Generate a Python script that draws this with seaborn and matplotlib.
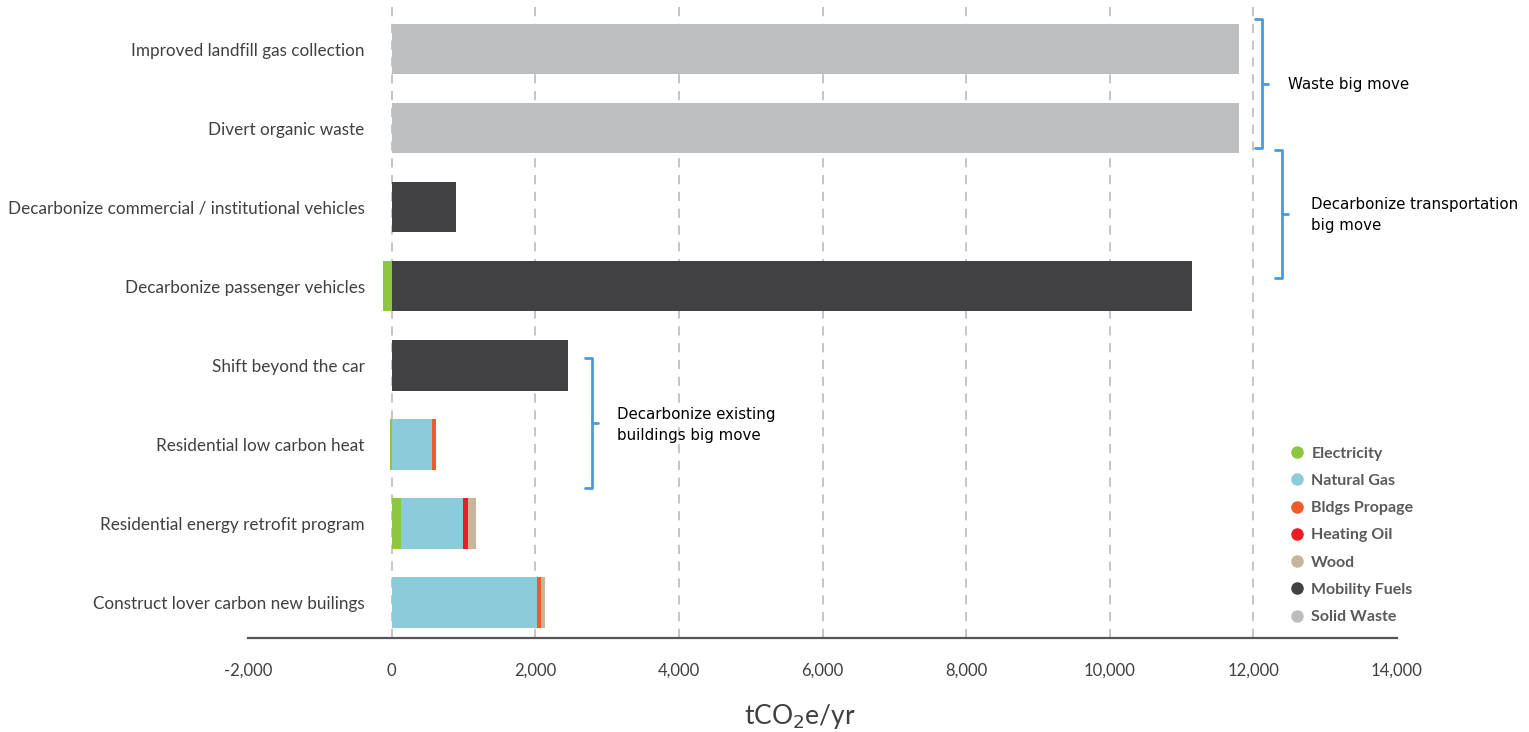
import numpy as np
import pandas as pd
import matplotlib.pyplot as plt
import seaborn as sns

sns.set_style("white")

# Data (tCO2e/yr)
actions = ['Improved landfill gas collection', 'Divert organic waste',
           'Decarbonize commercial / institutional vehicles', 'Decarbonize passenger vehicles',
           'Shift beyond the car', 'Residential low carbon heat',
           'Residential energy retrofit program', 'Construct lover carbon new builings']
fuels = ['Electricity', 'Natural Gas', 'Bldgs Propage', 'Heating Oil', 'Wood',
         'Mobility Fuels', 'Solid Waste']
electricity = [0, 0, 0, -120, 0, -25, 130, 0]
natural_gas = [0, 0, 0, 0, 0, 560, 870, 2020]
propane = [0, 0, 0, 0, 0, 55, 0, 60]
heating_oil = [0, 0, 0, 0, 0, 0, 70, 0]
wood = [0, 0, 0, 0, 0, 0, 100, 50]
mobility = [0, 0, 900, 11150, 2450, 0, 0, 0]
solid_waste = [11800, 11800, 0, 0, 0, 0, 0, 0]
colors = ['#8dc63f', '#8ccbd9', '#f15a29', '#ed1c24', '#c7b69c', '#414042', '#bcbec0']
x_ticks = [-2000, 0, 2000, 4000, 6000, 8000, 10000, 12000, 14000]

df = pd.DataFrame({'action': actions, 'Electricity': electricity, 'Natural Gas': natural_gas,
                   'Bldgs Propage': propane, 'Heating Oil': heating_oil, 'Wood': wood,
                   'Mobility Fuels': mobility, 'Solid Waste': solid_waste})

W, H = 1529, 732
fig = plt.figure(figsize=(W / 100, H / 100), dpi=100)
ax = fig.add_axes([248 / W, 1 - 638 / H, (1397 - 248) / W, 638 / H])


def px(x, y):
    """pixel coords (top-left origin) -> figure fraction"""
    return x / W, 1 - y / H


# positive parts stacked: draw cumulative ends from outermost layer inward
pos = df[fuels].clip(lower=0)
cum = pos.cumsum(axis=1)
bar_w = 0.64
for fuel, col in reversed(list(zip(fuels, colors))):
    sns.barplot(x=cum[fuel], y=df['action'], orient='h', color=col, width=bar_w,
                saturation=1, linewidth=0, ax=ax, zorder=2)
# negative electricity
neg = df['Electricity'].clip(upper=0)
sns.barplot(x=neg, y=df['action'], orient='h', color=colors[0], width=bar_w,
            saturation=1, linewidth=0, ax=ax, zorder=2)

# dashed gridlines
for t in x_ticks[1:-1]:
    ax.axvline(t, color='#b5b5b5', lw=1.1, ls=(0, (6, 5)), zorder=0)

ax.set_xlim(-2000, 14000)
ax.set_ylim(7.45, -0.62)
ax.set_xticks(x_ticks)
ax.set_xticklabels([f'{t:,}' for t in x_ticks])
ax.tick_params(axis='x', length=0, pad=18, labelsize=12, labelcolor='#404040')
# labels sit inside the axes, ending just left of zero
ax.tick_params(axis='y', length=0, pad=-84, labelsize=12.3, labelcolor='#404040')
for lab in ax.get_xticklabels() + ax.get_yticklabels():
    lab.set_family('Lato')
ax.set_ylabel('')
ax.set_xlabel('tCO$_2$e/yr', fontsize=19, color='#404040', family='Lato')
ax.xaxis.set_label_coords(0.48, -0.1)
sns.despine(ax=ax, left=True)
ax.spines['bottom'].set_color('#555555')
ax.spines['bottom'].set_linewidth(1.6)

# legend
handles = [plt.Line2D([], [], marker='o', ls='', color=c, markersize=8) for c in colors]
leg = fig.legend(handles, fuels, loc='upper left', bbox_to_anchor=px(1273, 432),
                 frameon=False, handletextpad=0.3, labelspacing=0.82, handlelength=1.2,
                 prop={'family': 'Lato', 'weight': 'bold', 'size': 11.5})
for t in leg.get_texts():
    t.set_color('#5a5a5a')

# brackets
bc = '#4a9bd8'


def bracket(x, y0, y1, tick=7):
    xs = [x - tick, x, x, x - tick]
    ys = [y0, y0, y1, y1]
    fx, fy = zip(*[px(a, b) for a, b in zip(xs, ys)])
    fig.add_artist(plt.Line2D(fx, fy, color=bc, lw=2))
    ym = (y0 + y1) / 2
    fx, fy = zip(px(x, ym), px(x + 6, ym))
    fig.add_artist(plt.Line2D(fx, fy, color=bc, lw=2))


bracket(1262, 19, 148)
bracket(1282, 150, 278)
bracket(592, 358, 488)

txt = dict(fontsize=10.8, color='black', family='DejaVu Sans', va='center', ha='left')
fig.text(*px(1288, 85), 'Waste big move', **txt)
fig.text(*px(1311, 215), 'Decarbonize transportation\nbig move', linespacing=1.5, **txt)
fig.text(*px(617, 425), 'Decarbonize existing\nbuildings big move', linespacing=1.5, **txt)

fig.savefig('out.png', dpi=100)
